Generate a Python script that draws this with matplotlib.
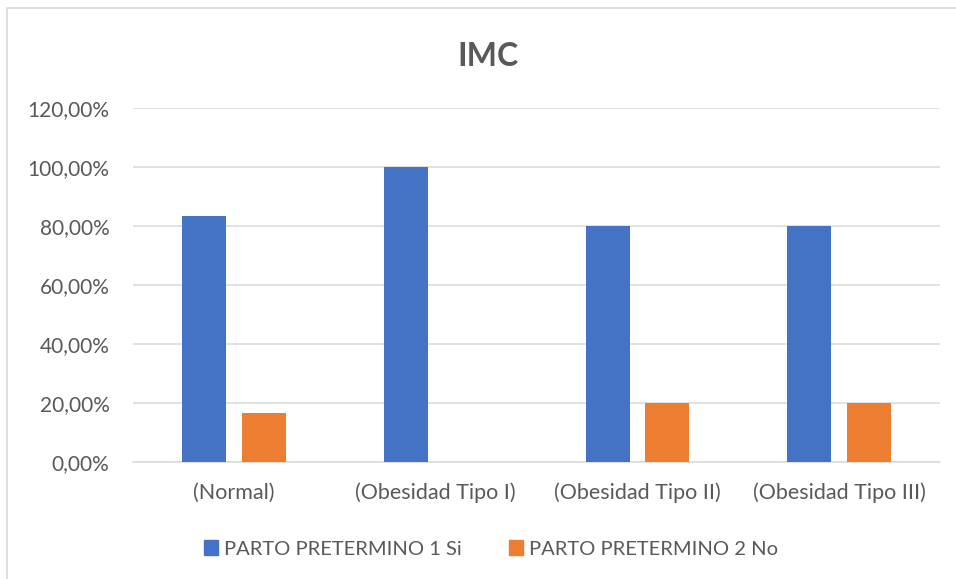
import numpy as np
import matplotlib
matplotlib.use('Agg')
import matplotlib.pyplot as plt
from matplotlib.patches import Rectangle, Patch
from matplotlib.ticker import FuncFormatter

# Chart data.
categories = ['(Normal)', '(Obesidad Tipo I)', '(Obesidad Tipo II)',
              '(Obesidad Tipo III)']
series_names = ['PARTO PRETERMINO 1 Si', 'PARTO PRETERMINO 2 No']
si_values = [83.33, 100.0, 80.0, 80.0]
no_values = [16.67, 0.0, 20.0, 20.0]
y_ticks = [0, 20, 40, 60, 80, 100, 120]

# Style settings.
colors = ['#4472C4', '#ED7D31']
textColor = '#595959'
gridColor = '#D9D9D9'
fontName = 'Lato'
barWidth = 0.218
barOffset = 0.1475

plt.rcParams['font.family'] = [fontName, 'DejaVu Sans']

fig = plt.figure(figsize=(9.56, 5.79), dpi=100, facecolor='white')

# Chart border.
fig.patches.append(Rectangle((7 / 956, -0.1), 1.2, 1.1 - 8 / 579,
    transform=fig.transFigure, fill=False, edgecolor='#D9D9D9', lw=1.2))

ax = fig.add_axes([133 / 956, 117 / 579, 807 / 956, 354 / 579])

x = np.arange(len(categories))
ax.bar(x - barOffset, si_values, barWidth, color=colors[0], zorder=3)
ax.bar(x + barOffset, no_values, barWidth, color=colors[1], zorder=3)

ax.set_xlim(-0.5, len(categories) - 0.5)
ax.set_ylim(0, 120)
ax.set_yticks(y_ticks)
ax.yaxis.set_major_formatter(FuncFormatter(
    lambda v, p: ('%.2f%%' % v).replace('.', ',')))
ax.set_xticks(x)
ax.set_xticklabels(categories)

ax.grid(axis='y', color=gridColor, lw=1.1, zorder=0)
for side in ['top', 'right', 'left']:
  ax.spines[side].set_visible(False)
ax.spines['bottom'].set_color(gridColor)
ax.spines['bottom'].set_linewidth(1.1)
ax.tick_params(axis='both', length=0, colors=textColor)
ax.tick_params(axis='y', pad=17, labelsize=15)
ax.tick_params(axis='x', pad=15, labelsize=15.5)

# Title.
fig.text(488 / 956, 1 - 57 / 579, 'IMC', ha='center', va='center',
    fontsize=23, fontweight='bold', color=textColor)

# Legend under the chart.
handles = [Patch(color=colors[0]), Patch(color=colors[1])]
leg = fig.legend(handles, series_names, loc='center',
    bbox_to_anchor=(491 / 956, 1 - 549 / 579), ncol=2, frameon=False,
    handlelength=0.7, handleheight=0.7, handletextpad=0.3,
    columnspacing=2.3, fontsize=14.5)
for t in leg.get_texts():
  t.set_color(textColor)

fig.savefig('out.png', dpi=100, facecolor='white')
